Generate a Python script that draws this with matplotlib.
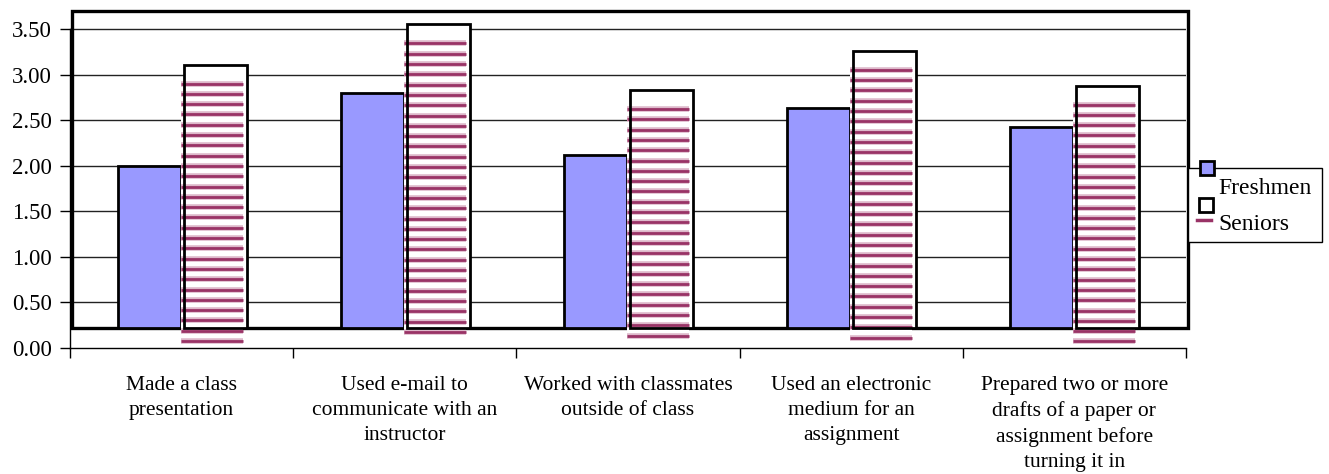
import matplotlib
matplotlib.use("Agg")
import matplotlib.pyplot as plt
from matplotlib.patches import Rectangle
from matplotlib.lines import Line2D
import numpy as np

categories = [
    "Made a class\npresentation",
    "Used e-mail to\ncommunicate with an\ninstructor",
    "Worked with classmates\noutside of class",
    "Used an electronic\nmedium for an\nassignment",
    "Prepared two or more\ndrafts of a paper or\nassignment before\nturning it in",
]
series_names = ["Freshmen", "Seniors"]
freshmen = [2.00, 2.80, 2.12, 2.63, 2.43]
seniors = [3.11, 3.55, 2.83, 3.26, 2.88]
yticks = [0.0, 0.5, 1.0, 1.5, 2.0, 2.5, 3.0, 3.5]

W, H = 1329, 474
DPI = 100
plt.rcParams['font.family'] = ['Liberation Serif', 'DejaVu Serif']
fig = plt.figure(figsize=(W / DPI, H / DPI), dpi=DPI)

def fx(x):
    return x / W

def fy(y):
    return 1 - y / H

# axes: x 70..1186, y 10..348 in image pixels
ax_l, ax_r, ax_t, ax_b = 70, 1186, 10, 348
ax = fig.add_axes([fx(ax_l), fy(ax_b), (ax_r - ax_l) / W, (ax_b - ax_t) / H])
px_per_unit = 91.14
ytop = (ax_b - ax_t) / px_per_unit
ax.set_ylim(0, ytop)
ax.set_xlim(-0.5, 4.5)
cat_px = (ax_r - ax_l) / 5.0

for s in ['top', 'right']:
    ax.spines[s].set_visible(False)
ax.spines['left'].set_bounds(0, 3.5)
ax.spines['left'].set_linewidth(1.0)
ax.spines['bottom'].set_linewidth(1.0)

ax.set_yticks(yticks)
ax.set_yticklabels([f"{v:.2f}" for v in yticks], fontsize=16.5)
ax.tick_params(axis='y', direction='out', length=7, width=1, pad=6)

x = np.arange(len(categories))
ax.set_xticks(x)
ax.set_xticklabels(categories, fontsize=15.5, linespacing=1.42)
ax.tick_params(axis='x', which='major', length=0, pad=20)
ax.set_xticks(np.arange(-0.5, 5.0, 1.0), minor=True)
ax.tick_params(axis='x', which='minor', direction='out', length=7, width=1)

# grid lines
for v in yticks[1:]:
    ax.axhline(v, color='#222222', lw=1.0, zorder=1)

# offset plot frame
frame_bottom = 20 / px_per_unit
ax.add_patch(Rectangle((-0.5 + 2 / cat_px, frame_bottom), 5, ytop - frame_bottom - 0.01,
                       fill=False, edgecolor='black', lw=2.4, zorder=2, clip_on=False))

bw = 63 / cat_px
# Freshmen bars
ax.bar(x - bw / 2 - 1 / cat_px, np.array(freshmen) - frame_bottom, width=bw, bottom=frame_bottom,
       color='#9999FF', edgecolor='black', lw=2.0, zorder=3)
# Seniors bars: white fill
sx = x + bw / 2 + 2 / cat_px
ax.bar(sx, np.array(seniors) - frame_bottom, width=bw, bottom=frame_bottom,
       color='white', edgecolor='none', lw=0, zorder=3)

# shifted stripe pattern
shift_x = -3 / cat_px
top_shift = 19 / px_per_unit
bot_shift = 14 / px_per_unit
spacing = 10.3 / px_per_unit
for xi, v in zip(sx, seniors):
    left = xi - bw / 2 + shift_x
    right = xi + bw / 2 + shift_x - 1 / cat_px
    top = v - top_shift
    bottom = frame_bottom - bot_shift
    ax.add_patch(Rectangle((left, bottom), right - left, top - bottom,
                           facecolor='white', edgecolor='none', zorder=4))
    ys = np.arange(top, bottom, -spacing)
    ax.hlines(ys, left, right, colors='#DDB8CA', lw=4.0, zorder=4.1)
    ax.hlines(ys, left, right, colors='#993366', lw=2.0, zorder=4.2)

# Seniors outline on top
ax.bar(sx, np.array(seniors) - frame_bottom, width=bw, bottom=frame_bottom,
       color='none', edgecolor='black', lw=2.0, zorder=5)

# legend (offset look)
fig.add_artist(Rectangle((fx(1188), fy(242)), (1322 - 1188) / W, (242 - 168) / H,
                         transform=fig.transFigure, facecolor='white', edgecolor='black', lw=1.0))
fig.add_artist(Rectangle((fx(1200), fy(175)), 14 / W, 14 / H, transform=fig.transFigure,
                         facecolor='#9999FF', edgecolor='black', lw=2.0))
fig.add_artist(Rectangle((fx(1199), fy(212)), 14 / W, 14 / H, transform=fig.transFigure,
                         facecolor='white', edgecolor='black', lw=2.0))
fig.add_artist(Line2D([fx(1197), fx(1211)], [fy(220), fy(220)], transform=fig.transFigure,
                      color='#993366', lw=2.5))
fig.text(fx(1218), fy(189), series_names[0], fontsize=17, va='center', ha='left')
fig.text(fx(1218), fy(225), series_names[1], fontsize=17, va='center', ha='left')

fig.savefig("out.png", dpi=DPI)
